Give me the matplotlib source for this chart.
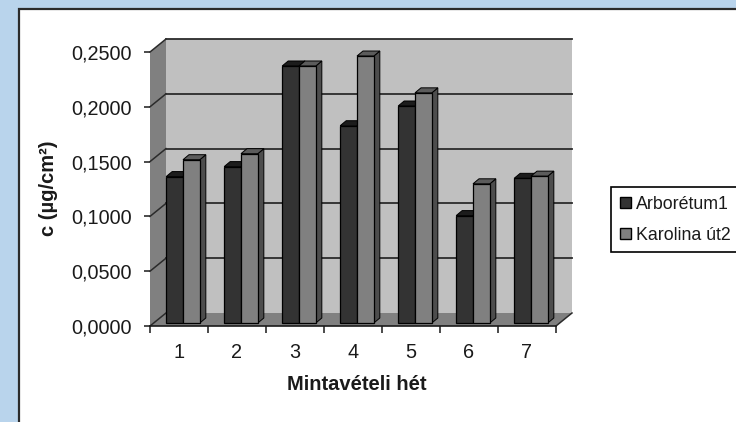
import matplotlib
matplotlib.use("Agg")
import matplotlib.pyplot as plt
from matplotlib.patches import Polygon, Rectangle

plt.rcParams["font.family"] = ["Liberation Sans", "DejaVu Sans"]

# ============================================================
# Data
# ============================================================

WEEKS = [1, 2, 3, 4, 5, 6, 7]
ARBORETUM = [0.1336, 0.1427, 0.2345, 0.1800, 0.1980, 0.0980, 0.1320]
KAROLINA = [0.1490, 0.1545, 0.2345, 0.2436, 0.2100, 0.1270, 0.1340]
Y_TICKS = [0.0, 0.05, 0.10, 0.15, 0.20, 0.25]

# ============================================================
# Layout in pixels
# ============================================================

W, H = 736, 422
LEFT, RIGHT = 150, 556
TOP, BOTTOM = 52, 326

WALL_DX, WALL_DY = 16, 13      # depth of the box
BAR_DX, BAR_DY = 6, 5          # depth of one bar
SHIFT_DX, SHIFT_DY = 4, 3      # bars stand a little behind the front edge

fig = plt.figure(figsize=(W / 100, H / 100), dpi=100, facecolor="#b9d4ec")

# white panel behind the chart
fig.add_artist(Rectangle((19 / W, -0.05), 1.0, 1 - 9 / H + 0.05, transform=fig.transFigure,
                         facecolor="white", edgecolor="#2b2b2b", linewidth=1.6, zorder=-1))

ax = fig.add_axes([LEFT / W, 1 - BOTTOM / H, (RIGHT - LEFT) / W, (BOTTOM - TOP) / H])
ax.set_xlim(0.5, 7.5)
ax.set_ylim(0, 0.25)
ax.patch.set_visible(False)

# pixel offsets expressed in data units
px_x = 7.0 / (RIGHT - LEFT)
px_y = 0.25 / (BOTTOM - TOP)


def add_poly(points, color, edge="none", lw=0.0, z=1):
    ax.add_patch(Polygon(points, closed=True, facecolor=color, edgecolor=edge,
                         linewidth=lw, zorder=z, clip_on=False, joinstyle="miter"))


# ============================================================
# 3D box: walls, floor, gridlines
# ============================================================

wx = WALL_DX * px_x
wy = WALL_DY * px_y

add_poly([(0.5 + wx, wy), (7.5 + wx, wy), (7.5 + wx, 0.25 + wy), (0.5 + wx, 0.25 + wy)], "#c0c0c0")
add_poly([(0.5, 0), (0.5 + wx, wy), (0.5 + wx, 0.25 + wy), (0.5, 0.25)], "#808080")
add_poly([(0.5, 0), (7.5, 0), (7.5 + wx, wy), (0.5 + wx, wy)], "#808080", z=2)

for v in Y_TICKS:
    ax.plot([0.5, 0.5 + wx], [v, v + wy], color="#2b2b2b", lw=1.1, zorder=2, clip_on=False)
    if v > 0:
        ax.plot([0.5 + wx, 7.5 + wx], [v + wy, v + wy], color="#2b2b2b", lw=1.3, zorder=2, clip_on=False)
ax.plot([7.5, 7.5 + wx], [0, wy], color="#2b2b2b", lw=1.1, zorder=2, clip_on=False)

# ============================================================
# Bars
# ============================================================

BAR_W = 0.29


def draw_bar(x0, value, front, top, side):
    x0 = x0 + SHIFT_DX * px_x
    x1 = x0 + BAR_W
    y0 = SHIFT_DY * px_y
    y1 = value + y0
    dx = BAR_DX * px_x
    dy = BAR_DY * px_y
    add_poly([(x1, y0), (x1 + dx, y0 + dy), (x1 + dx, y1 + dy), (x1, y1)], side, "black", 0.7, 3)
    add_poly([(x0, y1), (x1, y1), (x1 + dx, y1 + dy), (x0 + dx, y1 + dy)], top, "black", 0.7, 3)
    add_poly([(x0, y0), (x1, y0), (x1, y1), (x0, y1)], front, "black", 0.9, 3)


for week, a, k in zip(WEEKS, ARBORETUM, KAROLINA):
    draw_bar(week - BAR_W, a, "#333333", "#1c1c1c", "#1c1c1c")
    draw_bar(week, k, "#808080", "#5c5c5c", "#4d4d4d")

# ============================================================
# Axes, labels, legend
# ============================================================

for name in ["left", "right", "top"]:
    ax.spines[name].set_visible(False)
ax.spines["bottom"].set_color("#1a1a1a")
ax.spines["bottom"].set_linewidth(1.2)
ax.spines["bottom"].set_zorder(4)

ax.set_yticks(Y_TICKS)
ax.set_yticklabels([f"{v:.4f}".replace(".", ",") for v in Y_TICKS])
ax.set_xticks([w - 0.5 for w in WEEKS] + [7.5])
ax.set_xticklabels([])
ax.set_xticks(WEEKS, minor=True)
ax.set_xticklabels([str(w) for w in WEEKS], minor=True)

ax.tick_params(axis="y", length=4, width=1.1, color="#1a1a1a", labelsize=14.3, pad=9, labelcolor="#1a1a1a")
ax.tick_params(axis="x", which="major", length=5, width=1.1, color="#1a1a1a")
ax.tick_params(axis="x", which="minor", length=0, labelsize=14.3, pad=12, labelcolor="#1a1a1a")

fig.text(357 / W, 1 - 384 / H, "Mintavételi hét", ha="center", va="center",
         fontsize=14.5, fontweight="bold", color="#1a1a1a")
fig.text(48 / W, 1 - 188 / H, "c (µg/cm²)", ha="center", va="center", rotation=90,
         fontsize=14.5, fontweight="bold", color="#1a1a1a")

handles = [
    Rectangle((0, 0), 1, 1, facecolor="#333333", edgecolor="black", linewidth=1.0, label="Arborétum1"),
    Rectangle((0, 0), 1, 1, facecolor="#808080", edgecolor="black", linewidth=1.0, label="Karolina út2"),
]
fig.legend(handles=handles, loc="upper left", bbox_to_anchor=(611 / W, 1 - 187 / H),
           frameon=True, fancybox=False, edgecolor="black", framealpha=1.0,
           fontsize=12.8, handlelength=0.62, handleheight=0.62, handletextpad=0.3,
           labelspacing=0.8, borderpad=0.48, borderaxespad=0,
           labelcolor="#1a1a1a").get_frame().set_linewidth(1.2)

fig.savefig("out.png", dpi=100, facecolor=fig.get_facecolor())
